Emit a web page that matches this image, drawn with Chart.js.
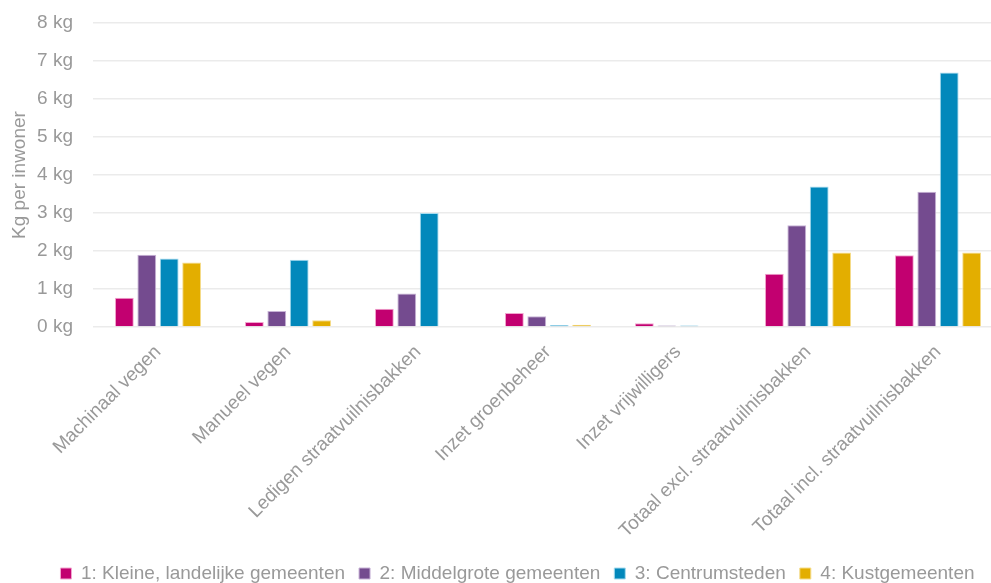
<!DOCTYPE html>
<html lang="nl">
<head>
    <meta charset="UTF-8">
    <title>Kg per inwoner</title>
    <script src="https://cdn.jsdelivr.net/npm/chart.js"></script>
    <style>
        html, body {
            margin: 0;
            padding: 0;
            background: #ffffff;
            overflow: hidden;
        }
        /* plotgebied loopt rechts iets buiten het venster door */
        #wrap {
            width: 1003px;
            height: 583px;
        }
    </style>
</head>
<body>
<div id="wrap"><canvas id="chart"></canvas></div>

<script>
    // Categorieën en waarden (kg per inwoner)
    const categories = [
        'Machinaal vegen',
        'Manueel vegen',
        'Ledigen straatvuilnisbakken',
        'Inzet groenbeheer',
        'Inzet vrijwilligers',
        'Totaal excl. straatvuilnisbakken',
        'Totaal incl. straatvuilnisbakken'
    ];
    const seriesNames = [
        '1: Kleine, landelijke gemeenten',
        '2: Middelgrote gemeenten',
        '3: Centrumsteden',
        '4: Kustgemeenten'
    ];
    const kleine = [0.77, 0.13, 0.48, 0.37, 0.10, 1.40, 1.89];
    const middelgrote = [1.90, 0.42, 0.88, 0.28, 0.04, 2.68, 3.56];
    const centrumsteden = [1.80, 1.77, 3.00, 0.05, 0.04, 3.70, 6.70];
    const kust = [1.70, 0.18, 0, 0.06, 0, 1.96, 1.96];
    const yTicks = [0, 1, 2, 3, 4, 5, 6, 7, 8];

    const fill = ['#c20070', '#744b8f', '#0288bb', '#e3ae00'];
    const edge = ['#f2a6cf', '#c7b3d6', '#a8dcef', '#f5dc8a'];
    const values = [kleine, middelgrote, centrumsteden, kust];

    const font = "'Liberation Sans Narrow', 'Arial Narrow', 'Liberation Sans', sans-serif";
    const grey = '#999999';

    // legenda iets naar rechts, onder de grafiek zelf
    const legendShift = {
        id: 'legendShift',
        afterLayout(chart) {
            const lg = chart.legend;
            if (lg) {
                lg.left += 16;
                lg.right += 16;
            }
        }
    };

    new Chart(document.getElementById('chart'), {
        type: 'bar',
        data: {
            labels: categories,
            datasets: values.map((v, i) => ({
                label: seriesNames[i],
                data: v,
                backgroundColor: fill[i],
                borderColor: edge[i],
                borderWidth: 1,
                borderSkipped: 'bottom',
                categoryPercentage: 0.69,
                barPercentage: 0.84
            }))
        },
        plugins: [legendShift],
        options: {
            responsive: true,
            maintainAspectRatio: false,
            animation: false,
            layout: {
                autoPadding: false,
                padding: { left: 0, right: 0, top: 23, bottom: -10 }
            },
            plugins: {
                tooltip: { enabled: false },
                legend: {
                    position: 'bottom',
                    labels: {
                        boxWidth: 11,
                        boxHeight: 11,
                        padding: 14,
                        color: grey,
                        font: { family: font, size: 19 }
                    }
                }
            },
            scales: {
                x: {
                    grid: { display: false },
                    border: { display: false },
                    ticks: {
                        color: grey,
                        font: { family: font, size: 19 },
                        minRotation: 45,
                        maxRotation: 45,
                        padding: 6
                    },
                    afterFit: (scale) => {
                        scale.height = 223;
                        scale.paddingLeft = 0;
                        scale.paddingRight = 0;
                    }
                },
                y: {
                    min: 0,
                    max: 8,
                    grid: { color: '#ebebeb', lineWidth: 1.5, drawTicks: false },
                    border: { display: false },
                    afterBuildTicks: (scale) => {
                        scale.ticks = yTicks.map(v => ({ value: v }));
                    },
                    afterFit: (scale) => {
                        scale.width = 93;
                        scale.paddingTop = 0;
                        scale.paddingBottom = 0;
                    },
                    ticks: {
                        color: grey,
                        padding: 20,
                        font: { family: font, size: 19 },
                        callback: (v) => v + ' kg'
                    },
                    title: {
                        display: true,
                        text: 'Kg per inwoner',
                        color: grey,
                        padding: { top: 8, bottom: 7 },
                        font: { family: font, size: 19 }
                    }
                }
            }
        }
    });
</script>
</body>
</html>
